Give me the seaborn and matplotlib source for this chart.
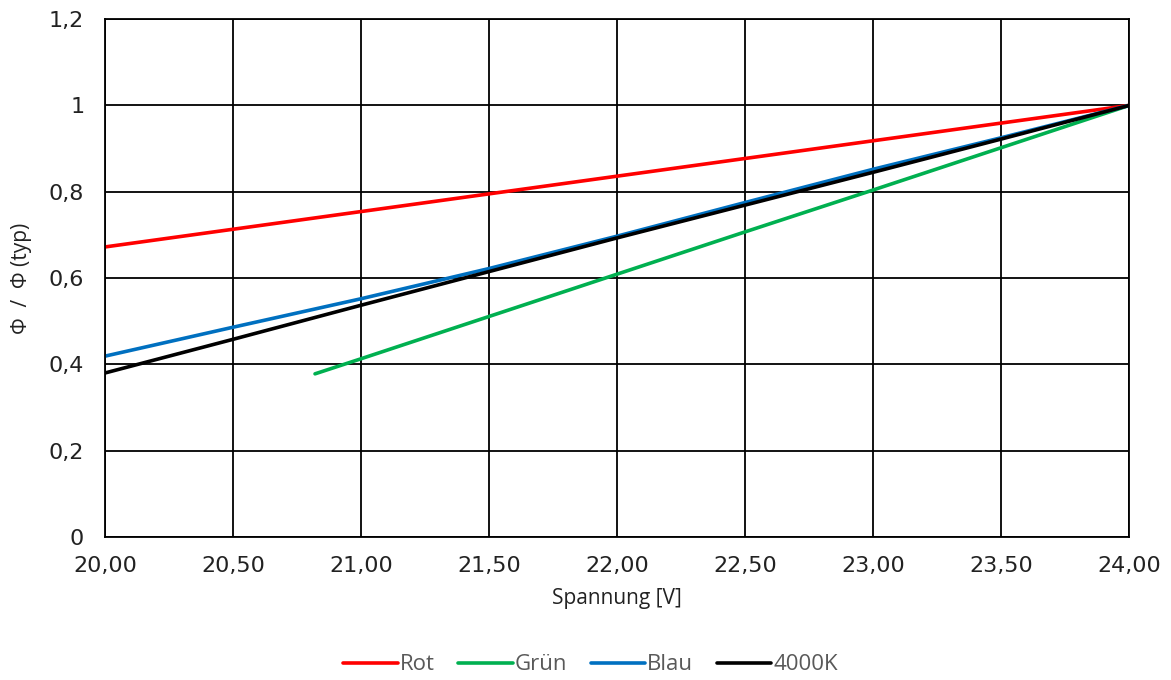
import numpy as np
import pandas as pd
import seaborn as sns
import matplotlib.pyplot as plt

# Werte
spannung = [20.0, 20.5, 21.0, 21.5, 22.0, 22.5, 23.0, 23.5, 24.0]
rot = [0.672, 0.713, 0.754, 0.795, 0.836, 0.877, 0.918, 0.959, 1.0]
blau = [0.419, 0.486, 0.552, 0.622, 0.697, 0.775, 0.852, 0.925, 1.0]
k4000 = [0.380, 0.458, 0.537, 0.615, 0.693, 0.769, 0.845, 0.922, 1.0]
spannung_gruen = [20.82, 21.0, 21.5, 22.0, 22.5, 23.0, 23.5, 24.0]
gruen = [0.378, 0.413, 0.511, 0.609, 0.707, 0.804, 0.902, 1.0]

x_ticks = [20.0, 20.5, 21.0, 21.5, 22.0, 22.5, 23.0, 23.5, 24.0]
x_labels = ['20,00', '20,50', '21,00', '21,50', '22,00', '22,50', '23,00', '23,50', '24,00']
y_ticks = [0, 0.2, 0.4, 0.6, 0.8, 1.0, 1.2]
y_labels = ['0', '0,2', '0,4', '0,6', '0,8', '1', '1,2']

df = pd.concat([
    pd.DataFrame({'U': spannung, 'phi': rot, 'Farbe': 'Rot'}),
    pd.DataFrame({'U': spannung_gruen, 'phi': gruen, 'Farbe': 'Grün'}),
    pd.DataFrame({'U': spannung, 'phi': blau, 'Farbe': 'Blau'}),
    pd.DataFrame({'U': spannung, 'phi': k4000, 'Farbe': '4000K'}),
])

sns.set_style('white')
plt.rcParams['font.family'] = ['Open Sans', 'DejaVu Sans']

fig = plt.figure(figsize=(11.71, 6.8), dpi=100)
ax = fig.add_axes([0.0897, 0.2103, 0.8747, 0.7617])

palette = {'Rot': '#FF0000', 'Grün': '#00B050', 'Blau': '#0070C0', '4000K': '#000000'}
sns.lineplot(data=df, x='U', y='phi', hue='Farbe', palette=palette,
             linewidth=2.6, ax=ax, sort=True, estimator=None)

ax.set_xlim(20, 24)
ax.set_ylim(0, 1.2)
ax.set_xticks(x_ticks)
ax.set_xticklabels(x_labels, fontsize=16, family='DejaVu Sans', color='#222222')
ax.set_yticks(y_ticks)
ax.set_yticklabels(y_labels, fontsize=16, family='DejaVu Sans', color='#222222')
ax.tick_params(length=0)
ax.tick_params(axis='x', pad=14)
ax.tick_params(axis='y', pad=15)
ax.grid(True, color='black', linewidth=1.3)
ax.set_axisbelow(True)
for s in ax.spines.values():
    s.set_color('black')
    s.set_linewidth(1.3)

ax.set_xlabel('Spannung [V]', fontsize=15, color='#222222', labelpad=8)
ax.set_ylabel('Φ  /  Φ (typ)', fontsize=15, color='#222222', labelpad=12)

leg = ax.legend(loc='center', bbox_to_anchor=(0.474, -0.247), ncol=4,
                frameon=False, fontsize=16, handlelength=2.45, handletextpad=0.1,
                columnspacing=1.05)
for t in leg.get_texts():
    t.set_color('#595959')

fig.savefig('out.png', dpi=100)
